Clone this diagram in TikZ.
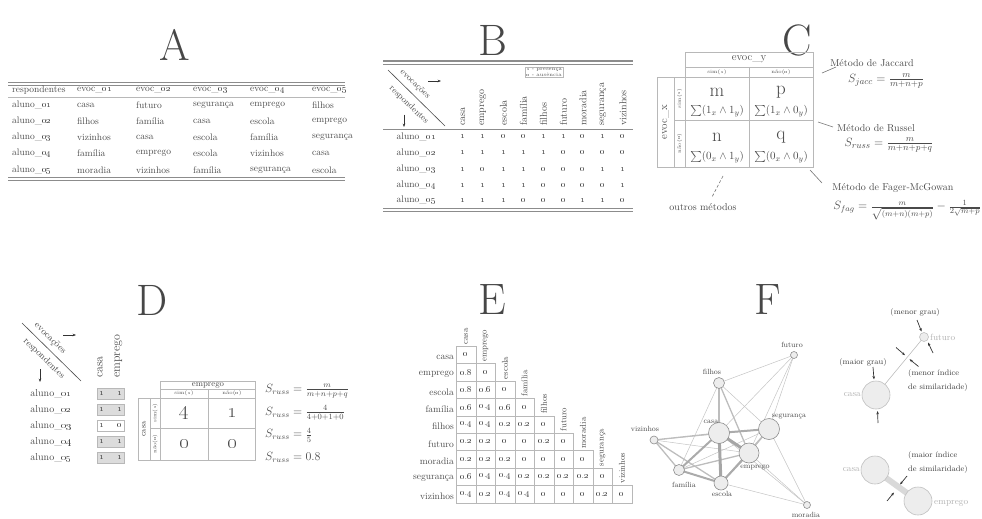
\documentclass[tikz,border=0pt]{standalone}
\usepackage{amsmath,amssymb}
\usetikzlibrary{arrows.meta}
\definecolor{txt}{HTML}{4A4A4A}
\definecolor{rulec}{HTML}{8C8C8C}
\definecolor{linec}{HTML}{B8B8B8}
\definecolor{nodefill}{HTML}{EDEDED}
\definecolor{nodedraw}{HTML}{8E8E8E}
\definecolor{faint}{HTML}{BDBDBD}
\definecolor{boxfill}{HTML}{DCDCDC}
\newcommand\os[1]{\oldstylenums{#1}}
\newcommand\dv[1]{\oldstylenums{0}.\oldstylenums{#1}}
\newcommand\zz{\oldstylenums{0}}
\newcommand\al[1]{aluno\_\oldstylenums{#1}}
\newcommand\ev[1]{evoc\_\oldstylenums{#1}}
\begin{document}
\begin{tikzpicture}[x=1pt,y=-1pt,
  every node/.style={inner sep=0pt,text=txt},
  ttl/.style={font=\fontsize{44}{44}\selectfont,text=black!72},
  ta/.style={font=\fontsize{9.5}{11}\selectfont,anchor=west},
  tb/.style={font=\fontsize{9.5}{11}\selectfont},
  tbr/.style={font=\fontsize{10}{11}\selectfont,rotate=90,anchor=west},
  tinytxt/.style={font=\fontsize{5}{5.5}\selectfont},
  cgrid/.style={draw=linec,line width=0.6pt},
  bigtxt/.style={font=\fontsize{19}{19}\selectfont},
  sumtxt/.style={font=\fontsize{11}{11}\selectfont},
  frm/.style={font=\fontsize{12}{12}\selectfont},
  diag/.style={font=\fontsize{8.8}{10}\selectfont,rotate=-44},
  ecell/.style={draw=linec,line width=0.5pt,minimum width=19.5pt,minimum height=17.4pt,font=\fontsize{9}{9}\selectfont},
  fn/.style={circle,draw=nodedraw,fill=nodefill,line width=0.6pt,inner sep=0pt},
  fl/.style={font=\fontsize{7.5}{7.5}\selectfont},
  w2/.style={draw=faint!90,line width=0.5pt},
  w4/.style={draw=faint,line width=1.3pt},
  w6/.style={draw=black!33,line width=2pt},
  w8/.style={draw=black!35,line width=3pt},
  myarr/.style={-{Stealth[length=3.4pt,width=2.6pt]},line width=0.7pt,draw=black!80},
  legtxt/.style={font=\fontsize{8}{8}\selectfont,text=black!75},
  leglab/.style={font=\fontsize{9}{9}\selectfont,text=black!30}]
\useasboundingbox (0,0) rectangle (982,519);

% ================= A =================
\node[ttl] (tA) at (175,45) {A};
\draw[rulec,line width=1.6pt] (8,82.5) -- (345,82.5);
\draw[rulec,line width=0.5pt] (8,85.3) -- (345,85.3);
\draw[linec,line width=0.6pt] (8,97.5) -- (345,97.5);
\draw[rulec,line width=0.5pt] (8,177.5) -- (345,177.5);
\draw[rulec,line width=1.6pt] (8,180.3) -- (345,180.3);
\foreach \x/\t [count=\i] in {12/respondentes,77/\ev{01},136/\ev{02},193/\ev{03},250/\ev{04},312/\ev{05}}
  \node[ta] (ah\i) at (\x,90.5) {\t};
\foreach \y/\r/\a/\b/\c/\d/\e [count=\j] in {
  105/01/casa/futuro/segurança/emprego/filhos,
  121/02/filhos/família/casa/escola/emprego,
  137/03/vizinhos/casa/escola/família/segurança,
  153.5/04/família/emprego/escola/vizinhos/casa,
  170/05/moradia/vizinhos/família/segurança/escola}{
  \node[ta] (ar\j) at (12,\y) {\al{\r}};
  \node[ta] (ar\j a) at (77,\y) {\a};
  \node[ta] (ar\j b) at (136,\y) {\b};
  \node[ta] (ar\j c) at (193,\y) {\c};
  \node[ta] (ar\j d) at (250,\y) {\d};
  \node[ta] (ar\j e) at (312,\y) {\e};
}

% ================= B =================
\node[ttl] (tB) at (493,40) {B};
\draw[rulec,line width=1.6pt] (383,61) -- (633,61);
\draw[rulec,line width=0.5pt] (383,63.8) -- (633,63.8);
\draw[rulec,line width=0.8pt] (383,129) -- (633,129);
\draw[rulec,line width=0.5pt] (383,208.5) -- (633,208.5);
\draw[rulec,line width=1.6pt] (383,211.3) -- (633,211.3);
\coordinate (bd1) at (388,70);
\coordinate (bd2) at (445,126);
\draw[black!70,line width=0.6pt] (bd1) -- (bd2);
\node[diag] (bev) at (415,84.5) {evocações};
\node[diag] (bre) at (409,105) {respondentes};
\coordinate (ba1) at (428,81); \coordinate (ba2) at (441,81);
\draw[myarr] (ba1) -- (ba2);
\coordinate (ba3) at (404,114.5); \coordinate (ba4) at (404,127);
\draw[myarr] (ba3) -- (ba4);
\foreach \x/\t [count=\i] in {463/casa,483/emprego,503.5/escola,523.5/família,543.5/filhos,563.5/futuro,583/moradia,603/segurança,623/vizinhos}
  \node[tbr] (bh\i) at (\x,126) {\t};
\node[draw=linec,line width=0.4pt,inner sep=1.2pt,align=left,tinytxt] (bleg) at (544,72.5) {\os1 - presença\\\os0 - ausência};
\foreach \y/\r [count=\j] in {137/01,153/02,169.5/03,185.5/04,200.5/05}
  \node[tb,anchor=east] (br\j) at (436,\y) {\al{\r}};
\foreach \y/\a/\b/\c/\d/\e/\f/\g/\h/\i [count=\j] in {
  137/1/1/0/0/1/1/0/1/0,
  153/1/1/1/1/1/0/0/0/0,
  169.5/1/0/1/1/0/0/0/1/1,
  185.5/1/1/1/1/0/0/0/0/1,
  200.5/1/1/1/0/0/0/1/1/0}{
  \node[tb] (bv\j a) at (463,\y) {\os\a};
  \node[tb] (bv\j b) at (483,\y) {\os\b};
  \node[tb] (bv\j c) at (503.5,\y) {\os\c};
  \node[tb] (bv\j d) at (523.5,\y) {\os\d};
  \node[tb] (bv\j e) at (543.5,\y) {\os\e};
  \node[tb] (bv\j f) at (563.5,\y) {\os\f};
  \node[tb] (bv\j g) at (583,\y) {\os\g};
  \node[tb] (bv\j h) at (603,\y) {\os\h};
  \node[tb] (bv\j i) at (623,\y) {\os\i};
}

% ================= C =================
\node[ttl] (tC) at (797,40) {C};
\draw[cgrid] (685,52) rectangle (813,167);
\draw[cgrid] (685,67) -- (813,67);
\draw[cgrid] (685,77) -- (813,77);
\draw[cgrid] (749,67) -- (749,167);
\draw[cgrid] (674,120) -- (813,120);
\draw[cgrid] (657,77) rectangle (685,167);
\draw[cgrid] (674,77) -- (674,167);
\node[font=\fontsize{11}{11}\selectfont] (cy) at (749,59.5) {evoc\_y};
\node[tinytxt] (cys) at (717,72) {sim(\os1)};
\node[tinytxt] (cyn) at (781,72) {não(\os0)};
\node[font=\fontsize{11}{11}\selectfont,rotate=90] (cx) at (665.5,122) {evoc\_x};
\node[tinytxt,rotate=90] (cxs) at (679.5,98.5) {sim(\os1)};
\node[tinytxt,rotate=90] (cxn) at (679.5,143.5) {não(\os0)};
\node[bigtxt] (cm) at (717,92) {m};
\node[bigtxt] (cp) at (781,92) {p};
\node[bigtxt] (cn) at (717,137) {n};
\node[bigtxt] (cq) at (781,137) {q};
\node[sumtxt] (cms) at (717,111) {$\sum(1_x\wedge 1_y)$};
\node[sumtxt] (cps) at (781,111) {$\sum(1_x\wedge 0_y)$};
\node[sumtxt] (cns) at (717,157) {$\sum(0_x\wedge 1_y)$};
\node[sumtxt] (cqs) at (781,157) {$\sum(0_x\wedge 0_y)$};
\node[font=\fontsize{10}{10}\selectfont] (cjt) at (872,63) {Método de Jaccard};
\node[font=\fontsize{13}{13}\selectfont] (cjf) at (886,81) {$S_{jacc}=\frac{m}{m+n+p}$};
\node[font=\fontsize{10}{10}\selectfont] (crt) at (876,128) {Método de Russel};
\node[font=\fontsize{13}{13}\selectfont] (crf) at (889,145) {$S_{russ}=\frac{m}{m+n+p+q}$};
\node[font=\fontsize{10}{10}\selectfont] (cft) at (893,188) {Método de Fager-McGowan};
\node[frm] (cff) at (907,210) {$S_{fag}=\frac{m}{\sqrt{(m+n)(m+p)}}-\frac{1}{2\sqrt{m+p}}$};
\node[font=\fontsize{10}{10}\selectfont] (cot) at (703,207) {outros métodos};
\coordinate (cj1) at (822,73); \coordinate (cj2) at (836,67);
\coordinate (cr1) at (818,122); \coordinate (cr2) at (833,127);
\coordinate (cf1) at (810,170); \coordinate (cf2) at (822,183);
\coordinate (co1) at (723,176); \coordinate (co2) at (712,197);
\draw[black!55,line width=0.6pt] (cj1) -- (cj2);
\draw[black!55,line width=0.6pt] (cr1) -- (cr2);
\draw[black!55,line width=0.6pt] (cf1) -- (cf2);
\draw[black!55,line width=0.6pt,densely dashed] (co1) -- (co2);

% ================= D =================
\node[ttl] (tD) at (152,300) {D};
\coordinate (dd1) at (22,323);
\coordinate (dd2) at (81,381);
\draw[black!70,line width=0.6pt] (dd1) -- (dd2);
\node[diag,font=\fontsize{9.3}{10}\selectfont] (dev) at (50,338.5) {evocações};
\node[diag,font=\fontsize{9.3}{10}\selectfont] (dre) at (44,358.5) {respondentes};
\coordinate (da1) at (63,335); \coordinate (da2) at (76,335);
\draw[myarr] (da1) -- (da2);
\coordinate (da3) at (40,369); \coordinate (da4) at (40,382);
\draw[myarr] (da3) -- (da4);
\node[font=\fontsize{12}{12}\selectfont,rotate=90,anchor=west] (dh1) at (100,378) {casa};
\node[font=\fontsize{12}{12}\selectfont,rotate=90,anchor=west] (dh2) at (118.5,378) {emprego};
\foreach \y/\r/\a/\b/\f [count=\j] in {394/01/1/1/boxfill,410/02/1/1/boxfill,426/03/1/0/white,442/04/1/1/boxfill,458/05/1/1/boxfill}{
  \node[fill=\f,draw=linec,line width=0.5pt,minimum width=27pt,minimum height=11pt] (db\j) at (110.5,\y) {};
  \node[tb,font=\fontsize{10}{11}\selectfont,anchor=east] (dr\j) at (72,\y) {\al{\r}};
  \node[tb] (dv\j a) at (101.5,\y) {\os\a};
  \node[tb] (dv\j b) at (119.5,\y) {\os\b};
}
\draw[cgrid] (160,381) rectangle (255,460);
\draw[cgrid] (160,389) -- (255,389);
\draw[cgrid] (160,398) -- (255,398);
\draw[cgrid] (208,389) -- (208,460);
\draw[cgrid] (150,428) -- (255,428);
\draw[cgrid] (138,398) rectangle (160,460);
\draw[cgrid] (150,398) -- (150,460);
\node[font=\fontsize{8.5}{8.5}\selectfont] (dce) at (208,385) {emprego};
\node[tinytxt] (dcs) at (184,393.5) {sim(\os1)};
\node[tinytxt] (dcn) at (232,393.5) {não(\os0)};
\node[font=\fontsize{8}{8}\selectfont,rotate=90] (dcc) at (144,429) {casa};
\node[tinytxt,rotate=90] (dcxs) at (155,413) {sim(\os1)};
\node[tinytxt,rotate=90] (dcxn) at (155,444) {não(\os0)};
\node[font=\fontsize{22}{22}\selectfont] (d4) at (184,413) {\os4};
\node[font=\fontsize{22}{22}\selectfont] (d1) at (232,413) {\os1};
\node[font=\fontsize{22}{22}\selectfont] (d0a) at (184,444) {\os0};
\node[font=\fontsize{22}{22}\selectfont] (d0b) at (232,444) {\os0};
\node[frm,anchor=west] (df1) at (265,391) {$S_{russ}=\frac{m}{m+n+p+q}$};
\node[frm,anchor=west] (df2) at (265,413) {$S_{russ}=\frac{4}{4+0+1+0}$};
\node[frm,anchor=west] (df3) at (265,435) {$S_{russ}=\frac{4}{5}$};
\node[frm,anchor=west] (df4) at (265,457) {$S_{russ}=0.8$};

% ================= E =================
\node[ttl] (tE) at (492,300) {E};
\foreach \lab [count=\i from 0] in {casa,emprego,escola,família,filhos,futuro,moradia,segurança,vizinhos}{
  \node[font=\fontsize{9.5}{10}\selectfont,anchor=east] (er\i) at (454,{357+17.4*\i}) {\lab};
  \node[font=\fontsize{8.5}{9}\selectfont,rotate=90,anchor=west] (ec\i) at ({466+19.5*\i},{355+17.4*\i-10.5}) {\lab};
}
\foreach \i/\vals in {0/{\zz},1/{\dv8,\zz},2/{\dv8,\dv6,\zz},3/{\dv6,\dv4,\dv6,\zz},4/{\dv4,\dv4,\dv2,\dv2,\zz},5/{\dv2,\dv2,\zz,\zz,\dv2,\zz},6/{\dv2,\dv2,\dv2,\zz,\zz,\zz,\zz},7/{\dv6,\dv4,\dv4,\dv2,\dv2,\dv2,\dv2,\zz},8/{\dv4,\dv2,\dv4,\dv4,\zz,\zz,\zz,\dv2,\zz}}{
  \foreach \v [count=\j from 0] in \vals {
    \node[ecell] (e\i-\j) at ({466+19.5*\j},{355+17.4*\i}) {\v};
  }
}

% ================= F =================
\node[ttl] (tF) at (768,300) {F};
\coordinate (cfut) at (794,355);
\coordinate (cfil) at (719,383);
\coordinate (ccas) at (719,433);
\coordinate (cseg) at (769,429);
\coordinate (cemp) at (749,453);
\coordinate (cviz) at (654,440);
\coordinate (cfam) at (679,470);
\coordinate (cesc) at (721,483);
\coordinate (cmor) at (807,505);
\foreach \a/\b in {ccas/cfut,ccas/cmor,cemp/cfut,cemp/cmor,cemp/cviz,cesc/cfil,cesc/cmor,cfam/cfil,cfam/cseg,cfil/cfut,cfil/cseg,cfut/cseg,cmor/cseg,cseg/cviz}
  \draw[w2] (\a) -- (\b);
\foreach \a/\b in {ccas/cfil,ccas/cviz,cemp/cfam,cemp/cfil,cemp/cseg,cesc/cseg,cesc/cviz,cfam/cviz}
  \draw[w4] (\a) -- (\b);
\foreach \a/\b in {ccas/cfam,ccas/cseg,cemp/cesc,cesc/cfam}
  \draw[w6] (\a) -- (\b);
\foreach \a/\b in {ccas/cemp,ccas/cesc}
  \draw[w8] (\a) -- (\b);
\node[fn,minimum size=7pt] (ffut) at (cfut) {};
\node[fn,minimum size=11pt] (ffil) at (cfil) {};
\node[fn,minimum size=21pt] (fcas) at (ccas) {};
\node[fn,minimum size=21pt] (fseg) at (cseg) {};
\node[fn,minimum size=20pt] (femp) at (cemp) {};
\node[fn,minimum size=8pt] (fviz) at (cviz) {};
\node[fn,minimum size=11pt] (ffam) at (cfam) {};
\node[fn,minimum size=14pt] (fesc) at (cesc) {};
\node[fn,minimum size=7pt] (fmor) at (cmor) {};
\node[fl] (lfut) at (792,345) {futuro};
\node[fl] (lfil) at (712,372) {filhos};
\node[fl] (lcas) at (711,422) {casa};
\node[fl] (lseg) at (789,417) {segurança};
\node[fl] (lemp) at (755,468) {emprego};
\node[fl] (lviz) at (645,429) {vizinhos};
\node[fl] (lfam) at (684,485) {família};
\node[fl] (lesc) at (722,494) {escola};
\node[fl] (lmor) at (806,514.5) {moradia};

% legend top
\coordinate (gfut) at (924,337);
\coordinate (gcas) at (876,395);
\draw[draw=faint,line width=0.6pt] (gcas) -- (gfut);
\node[fn,draw=black!25,minimum size=9pt] (gnfut) at (gfut) {};
\node[fn,draw=black!25,minimum size=28pt] (gncas) at (gcas) {};
\node[leglab,anchor=west] (glfut) at (930,337) {futuro};
\node[leglab,anchor=east] (glcas) at (861,395) {casa};
\node[legtxt] (gmg) at (915,312) {(menor grau)};
\coordinate (g1a) at (917,320); \coordinate (g1b) at (921.5,331.5);
\coordinate (g2a) at (933,353); \coordinate (g2b) at (928,342.5);
\draw[myarr] (g1a) -- (g1b);
\draw[myarr] (g2a) -- (g2b);
\node[legtxt] (gMg) at (863,362) {(maior grau)};
\coordinate (g3a) at (873,367); \coordinate (g3b) at (874,379.5);
\coordinate (g4a) at (878,423); \coordinate (g4b) at (877.5,411);
\draw[myarr] (g3a) -- (g3b);
\draw[myarr] (g4a) -- (g4b);
\node[legtxt,anchor=west] (gmi1) at (908,373) {(menor índice};
\node[legtxt,anchor=west] (gmi2) at (908,387) {de similaridade)};
\coordinate (g5a) at (896,347.5); \coordinate (g5b) at (905,355.2);
\coordinate (g6a) at (918.5,366.5); \coordinate (g6b) at (909.5,359.2);
\draw[myarr] (g5a) -- (g5b);
\draw[myarr] (g6a) -- (g6b);
% legend bottom
\coordinate (hcas) at (875,470);
\coordinate (hemp) at (918,501);
\draw[draw=black!15,line width=6pt] (hcas) -- (hemp);
\node[fn,draw=black!25,minimum size=28pt] (hncas) at (hcas) {};
\node[fn,draw=black!25,minimum size=28pt] (hnemp) at (hemp) {};
\node[leglab,anchor=east] (hlcas) at (860,470) {casa};
\node[leglab,anchor=west] (hlemp) at (934,503) {emprego};
\node[legtxt,anchor=west] (hmi1) at (908,455) {(maior índice};
\node[legtxt,anchor=west] (hmi2) at (908,469) {de similaridade)};
\coordinate (h1a) at (907,476); \coordinate (h1b) at (900,484.5);
\coordinate (h2a) at (887,501); \coordinate (h2b) at (894,492.5);
\draw[myarr] (h1a) -- (h1b);
\draw[myarr] (h2a) -- (h2b);
\end{tikzpicture}
\end{document}
